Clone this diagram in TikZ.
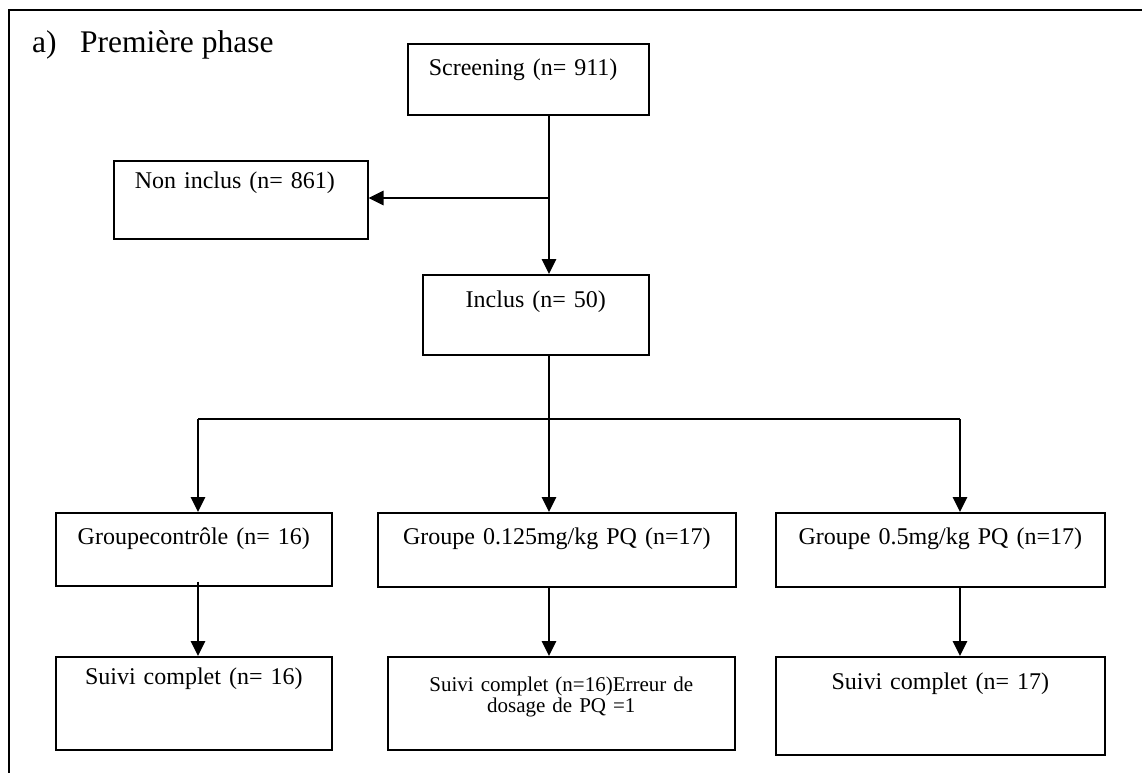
\documentclass[tikz,border=0pt]{standalone}
\usepackage{fontspec}
\setmainfont{Liberation Serif}
\usetikzlibrary{arrows.meta}
\begin{document}
\begin{tikzpicture}[x=1pt,y=-1pt,
  box/.style={draw, line width=1.6pt, inner sep=0pt, anchor=north west, align=center,
    font=\fontsize{24}{28}\selectfont},
  lbox/.style={box, align=left},
  conn/.style={line width=1.6pt},
  arr/.style={conn, -{Triangle[length=15pt,width=14.5pt]}},
  title/.style={anchor=base west, inner sep=0pt, font=\fontsize{31.5}{36}\selectfont}]
\useasboundingbox (0,0) rectangle (1142,772);
\clip (0,0) rectangle (1142,772);
\draw[line width=2pt] (9,800) -- (9,10) -- (1160,10);
\node[title] (ta) at (32,52) {a)};
\node[title] (tb) at (80,52) {Première phase};
% boxes
\node[lbox, text width=241pt, text height=32pt, text depth=39pt] (scr) at (407,43) {\hspace*{21pt}Screening (n= 911)};
\node[lbox, text width=254pt, text height=28pt, text depth=50pt] (non) at (113,160) {\hspace*{21pt}Non inclus (n= 861)};
\node[box, text width=226pt, text height=33pt, text depth=47pt] (inc) at (422,274) {Inclus (n= 50)};
\node[box, text width=276pt, text height=32pt, text depth=41pt] (g1) at (55,512) {Groupecontrôle (n= 16)};
\node[box, text width=358pt, text height=32pt, text depth=42pt] (g2) at (377,512) {Groupe 0.125mg/kg PQ (n=17)};
\node[box, text width=329pt, text height=32pt, text depth=42pt] (g3) at (775,512) {Groupe 0.5mg/kg PQ (n=17)};
\node[box, text width=276pt, text height=28pt, text depth=65pt] (s1) at (55,656) {Suivi complet (n= 16)};
\node[box, text width=347pt, text height=35pt, text depth=58pt, font=\fontsize{21}{20.5}\selectfont] (s2) at (387,656) {Suivi complet (n=16)Erreur de\\dosage de PQ =1};
\node[box, text width=329pt, text height=33pt, text depth=65pt] (s3) at (775,656) {Suivi complet (n= 17)};
% junctions
\coordinate (j1) at (549,198);
\coordinate (j2) at (549,419);
\coordinate (bl) at (198,419);
\coordinate (br) at (960,419);
% connectors
\draw[conn] (scr.south -| j1) -- (j1);
\draw[arr] (j1) -- (non.east |- j1);
\draw[arr] (j1) -- (inc.north -| j1);
\draw[conn] ([yshift=1pt]inc.south -| j2) -- (j2);
\draw[conn] (bl) -- (br);
\draw[arr] (bl) -- (g1.north -| bl);
\draw[arr] (j2) -- (g2.north -| j2);
\draw[arr] (br) -- (g3.north -| br);
\draw[arr] ([yshift=5pt]g1.south -| bl) -- (s1.north -| bl);
\draw[arr] (g2.south -| j2) -- (s2.north -| j2);
\draw[arr] (g3.south -| br) -- (s3.north -| br);
\end{tikzpicture}
\end{document}
